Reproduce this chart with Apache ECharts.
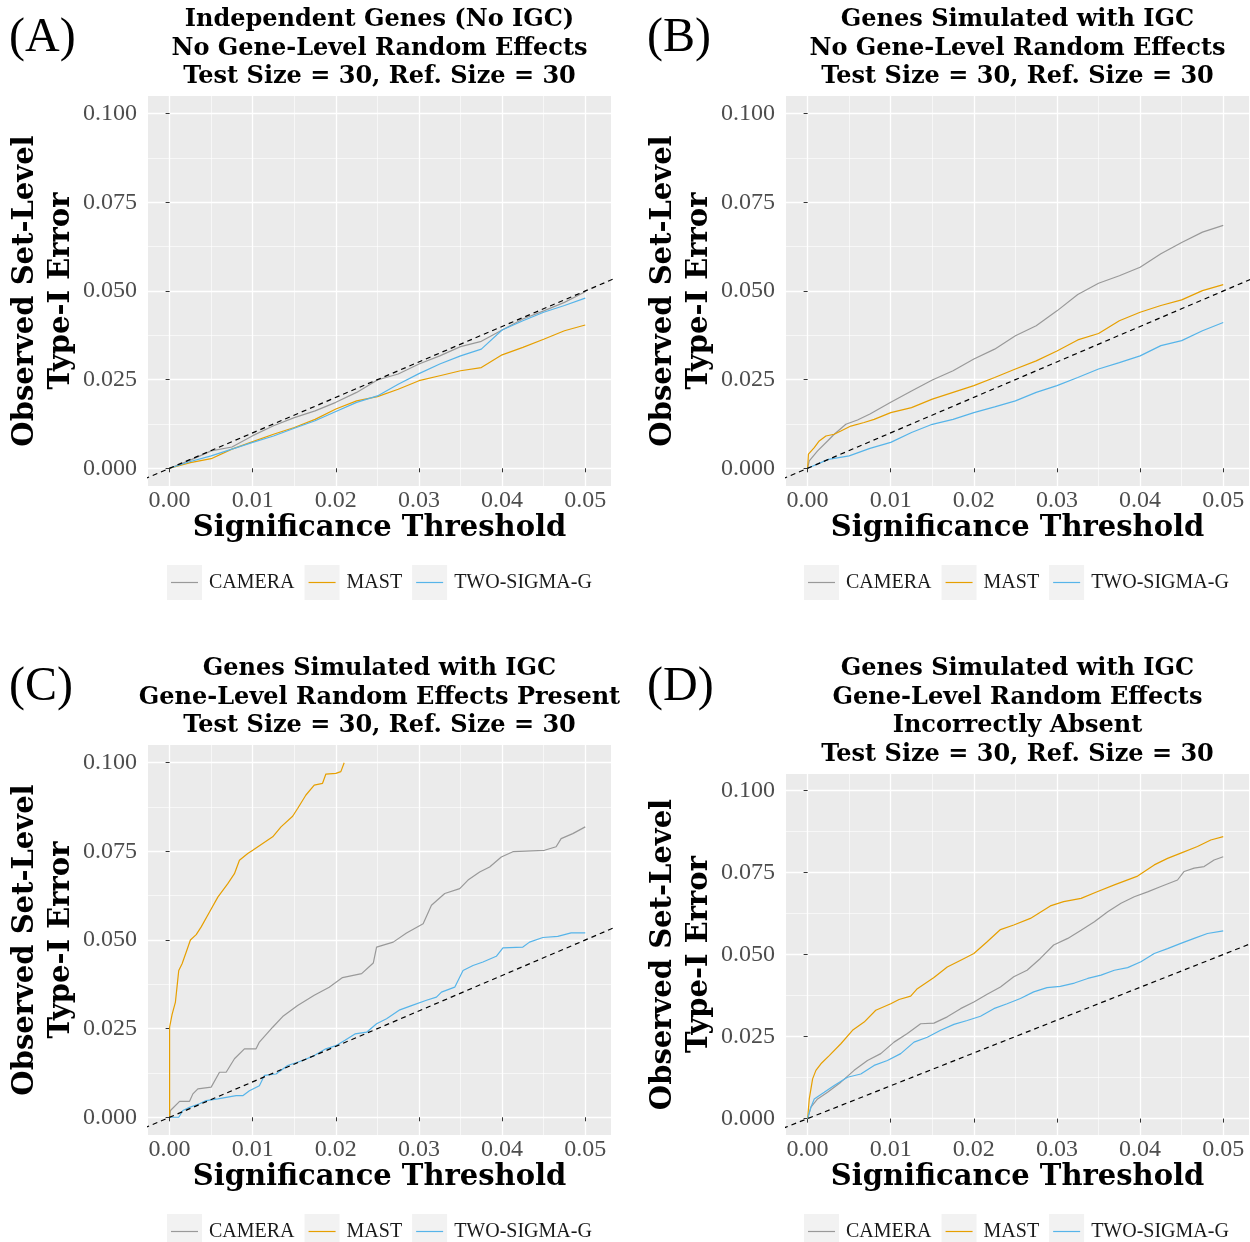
<!DOCTYPE html>
<html><head><meta charset="utf-8">
<script src="https://cdn.jsdelivr.net/npm/echarts@6/dist/echarts.min.js"></script>
<style>html,body{margin:0;padding:0;background:#fff}#c{width:1250px;height:1242px}</style>
</head><body><div id="c"></div>
<script>
// ---------- data ----------
const METHODS = ['CAMERA', 'MAST', 'TWO-SIGMA-G'];
const COLORS = ['#999999', '#E69F00', '#56B4E9'];
const X_TICKS = [0, 0.01, 0.02, 0.03, 0.04, 0.05];
const X_MINOR = [0.005, 0.015, 0.025, 0.035, 0.045];
const Y_TICKS = [0, 0.025, 0.05, 0.075, 0.1];
const Y_MINOR = [0.0125, 0.0375, 0.0625, 0.0875];
const X_RANGE = [-0.0026, 0.0531];
const Y_RANGE = [-0.005, 0.105];
const REF_LINE = [[-0.01, -0.01], [0.06, 0.06]];

const TITLE_A = ['Independent Genes (No IGC)', 'No Gene-Level Random Effects', 'Test Size = 30, Ref. Size = 30'];
const TITLE_B = ['Genes Simulated with IGC', 'No Gene-Level Random Effects', 'Test Size = 30, Ref. Size = 30'];
const TITLE_C = ['Genes Simulated with IGC', 'Gene-Level Random Effects Present', 'Test Size = 30, Ref. Size = 30'];
const TITLE_D = ['Genes Simulated with IGC', 'Gene-Level Random Effects', 'Incorrectly Absent', 'Test Size = 30, Ref. Size = 30'];
const X_NAME = 'Significance Threshold';
const Y_NAME = 'Observed Set-Level\nType-I Error';

const A_CAMERA = [[0,0],[0.0025,0.0023],[0.005,0.0049],[0.0075,0.006],[0.01,0.0092],[0.0125,0.012],[0.015,0.0143],[0.0175,0.0162],[0.02,0.0186],[0.0225,0.0214],[0.025,0.0249],[0.0275,0.0266],[0.03,0.0294],[0.0325,0.0317],[0.035,0.0343],[0.0375,0.0358],[0.04,0.039],[0.0425,0.0421],[0.045,0.0444],[0.0475,0.0468],[0.05,0.0498]];
const A_MAST = [[0,0],[0.0025,0.0016],[0.005,0.0027],[0.0075,0.0054],[0.01,0.0075],[0.0125,0.0096],[0.015,0.0115],[0.0175,0.0138],[0.02,0.0167],[0.0225,0.019],[0.025,0.0202],[0.0275,0.0223],[0.03,0.0247],[0.0325,0.0261],[0.035,0.0275],[0.0375,0.0284],[0.04,0.032],[0.0425,0.0341],[0.045,0.0364],[0.0475,0.0388],[0.05,0.0404]];
const A_TWOSIGMA = [[0,0],[0.0025,0.0019],[0.005,0.0035],[0.0075,0.0054],[0.01,0.0073],[0.0125,0.0091],[0.015,0.0113],[0.0175,0.0134],[0.02,0.016],[0.0225,0.0186],[0.025,0.0204],[0.0275,0.0237],[0.03,0.0267],[0.0325,0.0294],[0.035,0.0317],[0.0375,0.0336],[0.04,0.039],[0.0425,0.0416],[0.045,0.044],[0.0475,0.0459],[0.05,0.048]];

const B_CAMERA = [[0,0],[0.0002,0.0021],[0.0012,0.0049],[0.0024,0.0077],[0.0032,0.0096],[0.0046,0.0124],[0.006,0.0136],[0.0075,0.0153],[0.01,0.0186],[0.0125,0.0218],[0.015,0.0249],[0.0175,0.0275],[0.02,0.0308],[0.0225,0.0336],[0.025,0.0374],[0.0275,0.0402],[0.03,0.0444],[0.0325,0.049],[0.035,0.0522],[0.0375,0.0543],[0.04,0.0567],[0.0425,0.0605],[0.045,0.0637],[0.0475,0.0666],[0.05,0.0685]];
const B_MAST = [[0,0],[0.0001,0.004],[0.0008,0.0058],[0.0014,0.0077],[0.0022,0.0091],[0.0032,0.0096],[0.004,0.0105],[0.0052,0.0119],[0.0068,0.0129],[0.008,0.0138],[0.01,0.0157],[0.0125,0.0171],[0.015,0.0195],[0.0175,0.0214],[0.02,0.0233],[0.0225,0.0256],[0.025,0.028],[0.0275,0.0303],[0.03,0.0331],[0.0325,0.0362],[0.035,0.038],[0.0375,0.0416],[0.04,0.044],[0.0425,0.0459],[0.045,0.0475],[0.0475,0.0501],[0.05,0.0518]];
const B_TWOSIGMA = [[0,0],[0.0025,0.0025],[0.005,0.0035],[0.0075,0.0056],[0.01,0.0073],[0.0125,0.0101],[0.015,0.0124],[0.0175,0.0138],[0.02,0.0157],[0.0225,0.0173],[0.025,0.019],[0.0275,0.0214],[0.03,0.0233],[0.0325,0.0256],[0.035,0.028],[0.0375,0.0298],[0.04,0.0317],[0.0425,0.0346],[0.045,0.036],[0.0475,0.0388],[0.05,0.0411]];

const C_CAMERA = [[0,0],[0.0001,0.0019],[0.0012,0.0045],[0.0024,0.0045],[0.0028,0.0066],[0.0034,0.008],[0.005,0.0085],[0.006,0.0127],[0.0068,0.0127],[0.0078,0.0165],[0.009,0.0193],[0.0104,0.0193],[0.0108,0.0212],[0.0124,0.0254],[0.0136,0.0284],[0.0154,0.0315],[0.0174,0.0344],[0.0192,0.0367],[0.0208,0.0394],[0.0231,0.0405],[0.0245,0.0435],[0.0249,0.048],[0.0269,0.0494],[0.0285,0.052],[0.0305,0.0546],[0.0315,0.0598],[0.0331,0.0631],[0.0349,0.0645],[0.0359,0.0669],[0.0373,0.0692],[0.0385,0.0706],[0.0399,0.0734],[0.0413,0.0749],[0.0451,0.0753],[0.0465,0.0763],[0.0471,0.0786],[0.0485,0.08],[0.05,0.0819]];
const C_MAST = [[0,0],[0,0.0254],[0.0003,0.029],[0.0007,0.0325],[0.0009,0.037],[0.0011,0.0414],[0.0015,0.0433],[0.002,0.0466],[0.0025,0.05],[0.0032,0.0515],[0.0038,0.0537],[0.0048,0.0579],[0.0058,0.0621],[0.007,0.0659],[0.0078,0.0687],[0.0084,0.0725],[0.0094,0.0744],[0.01,0.0753],[0.0112,0.0772],[0.0124,0.0791],[0.0134,0.0819],[0.0148,0.0849],[0.0154,0.0871],[0.0164,0.0909],[0.0174,0.0937],[0.0184,0.0942],[0.0188,0.0968],[0.02,0.097],[0.0206,0.0975],[0.021,0.1]];
const C_TWOSIGMA = [[0,0],[0.0011,0],[0.0016,0.0019],[0.0024,0.0028],[0.0036,0.0038],[0.0044,0.0047],[0.0058,0.0052],[0.008,0.0061],[0.0088,0.0061],[0.0096,0.0075],[0.0108,0.0089],[0.0114,0.0118],[0.0128,0.0122],[0.0142,0.0146],[0.016,0.016],[0.0174,0.0174],[0.0188,0.0193],[0.02,0.0202],[0.0211,0.0217],[0.0223,0.0235],[0.0237,0.024],[0.0249,0.0264],[0.0261,0.0278],[0.0277,0.0303],[0.0291,0.0315],[0.0309,0.033],[0.0321,0.0339],[0.0327,0.0353],[0.0343,0.0367],[0.0353,0.0414],[0.0365,0.0428],[0.0377,0.0438],[0.0393,0.0454],[0.0401,0.0478],[0.0425,0.048],[0.0433,0.0494],[0.0449,0.0507],[0.0467,0.051],[0.0483,0.052],[0.05,0.052]];

const D_CAMERA = [[0,0],[0.0004,0.0035],[0.0012,0.006],[0.0024,0.008],[0.004,0.0111],[0.0056,0.0147],[0.0072,0.0177],[0.0088,0.0198],[0.0104,0.0233],[0.012,0.0259],[0.0136,0.0289],[0.0152,0.0291],[0.0168,0.031],[0.0184,0.0335],[0.02,0.0355],[0.0216,0.0379],[0.0232,0.0401],[0.0248,0.0432],[0.0264,0.0452],[0.028,0.0488],[0.0296,0.0529],[0.0313,0.0549],[0.0329,0.0574],[0.0345,0.06],[0.0361,0.063],[0.0377,0.0656],[0.0393,0.0676],[0.0409,0.0691],[0.0425,0.0707],[0.0445,0.0727],[0.0453,0.0753],[0.0465,0.0763],[0.0477,0.0768],[0.0489,0.0788],[0.05,0.0798]];
const D_MAST = [[0,0],[0.0002,0.006],[0.0006,0.0121],[0.001,0.0147],[0.0016,0.0167],[0.0026,0.0192],[0.004,0.0228],[0.0054,0.0269],[0.0068,0.0294],[0.0082,0.033],[0.01,0.035],[0.011,0.0363],[0.0124,0.0373],[0.0132,0.0396],[0.0152,0.043],[0.0168,0.0462],[0.0186,0.0485],[0.02,0.0503],[0.0216,0.0539],[0.0232,0.0576],[0.0248,0.059],[0.0268,0.061],[0.0292,0.0648],[0.0308,0.0661],[0.0329,0.0671],[0.0349,0.0692],[0.0369,0.0712],[0.0397,0.0739],[0.0417,0.0773],[0.0433,0.0793],[0.0449,0.0809],[0.0469,0.0829],[0.0485,0.0849],[0.05,0.0859]];
const D_TWOSIGMA = [[0,0],[0.0004,0.0035],[0.0008,0.006],[0.002,0.008],[0.0032,0.0101],[0.0048,0.0126],[0.0064,0.0136],[0.008,0.0162],[0.0096,0.0177],[0.0112,0.0198],[0.0128,0.0233],[0.0144,0.0248],[0.016,0.0269],[0.0176,0.0287],[0.0192,0.0299],[0.0208,0.0312],[0.0224,0.0335],[0.024,0.035],[0.0256,0.0366],[0.0272,0.0386],[0.0288,0.0399],[0.0304,0.0403],[0.0321,0.0413],[0.0337,0.0427],[0.0353,0.0437],[0.0369,0.0452],[0.0385,0.046],[0.0401,0.0478],[0.0417,0.0503],[0.0433,0.0518],[0.0449,0.0534],[0.0465,0.0549],[0.0481,0.0564],[0.05,0.0572]];

// ---------- layout / style ----------
const FONT_REG = '"Liberation Serif", "Times New Roman", serif';
const FONT_BOLD = '"DejaVu Serif", serif';

const panels = [
  { label: '(A)', title: TITLE_A, grid: { left: 148, top: 96, width: 463, height: 390 }, legendLeft: 167, legendTop: 565, labelXY: [9, 38], titleXY: [379.5, 5.5], data: [A_CAMERA, A_MAST, A_TWOSIGMA] },
  { label: '(B)', title: TITLE_B, grid: { left: 786, top: 96, width: 463, height: 390 }, legendLeft: 804, legendTop: 565, labelXY: [647, 38], titleXY: [1017.5, 5.5], data: [B_CAMERA, B_MAST, B_TWOSIGMA] },
  { label: '(C)', title: TITLE_C, grid: { left: 148, top: 745, width: 463, height: 390 }, legendLeft: 167, legendTop: 1214, labelXY: [9, 687], titleXY: [379.5, 654.5], data: [C_CAMERA, C_MAST, C_TWOSIGMA] },
  { label: '(D)', title: TITLE_D, grid: { left: 786, top: 774, width: 463, height: 361 }, legendLeft: 804, legendTop: 1214, labelXY: [647, 687], titleXY: [1017.5, 654.5], data: [D_CAMERA, D_MAST, D_TWOSIGMA] }
];

const grid = [], xAxis = [], yAxis = [], series = [], legend = [], graphic = [];

panels.forEach((p, i) => {
  grid.push(Object.assign({ show: true, backgroundColor: '#EBEBEB', borderWidth: 0 }, p.grid));

  xAxis.push({
    type: 'value', gridIndex: i, min: X_RANGE[0], max: X_RANGE[1], position: 'bottom',
    name: X_NAME, nameLocation: 'middle', nameGap: 28,
    nameTextStyle: { fontFamily: FONT_BOLD, fontWeight: 'bold', fontSize: 29, color: '#000' },
    axisLine: { show: false },
    axisTick: { show: true, length: 4, customValues: X_TICKS, lineStyle: { color: '#333', width: 1 } },
    axisLabel: { customValues: X_TICKS, formatter: v => v.toFixed(2), fontFamily: FONT_REG, fontSize: 24, color: '#4D4D4D', margin: 3 },
    splitLine: { show: true, lineStyle: { color: '#FFFFFF', width: 1.3 } }
  });
  xAxis.push({
    type: 'value', gridIndex: i, min: X_RANGE[0], max: X_RANGE[1], position: 'top',
    axisLine: { show: false },
    axisTick: { show: false, customValues: X_MINOR },
    axisLabel: { show: false, customValues: X_MINOR },
    splitLine: { show: true, lineStyle: { color: '#FFFFFF', width: 0.6 } }
  });
  yAxis.push({
    type: 'value', gridIndex: i, min: Y_RANGE[0], max: Y_RANGE[1], position: 'left',
    name: Y_NAME, nameLocation: 'middle', nameRotate: 90, nameGap: 67,
    nameTextStyle: { fontFamily: FONT_BOLD, fontWeight: 'bold', fontSize: 29, color: '#000', lineHeight: 36 },
    axisLine: { show: false },
    axisTick: { show: true, length: 4, customValues: Y_TICKS, lineStyle: { color: '#333', width: 1 } },
    axisLabel: { customValues: Y_TICKS, formatter: v => v.toFixed(3), fontFamily: FONT_REG, fontSize: 24, color: '#4D4D4D', margin: 11 },
    splitLine: { show: true, lineStyle: { color: '#FFFFFF', width: 1.3 } }
  });
  yAxis.push({
    type: 'value', gridIndex: i, min: Y_RANGE[0], max: Y_RANGE[1], position: 'right',
    axisLine: { show: false },
    axisTick: { show: false, customValues: Y_MINOR },
    axisLabel: { show: false, customValues: Y_MINOR },
    splitLine: { show: true, lineStyle: { color: '#FFFFFF', width: 0.6 } }
  });

  METHODS.forEach((m, k) => {
    series.push({
      name: m, type: 'line', xAxisIndex: 2 * i, yAxisIndex: 2 * i, data: p.data[k],
      symbol: 'none', showSymbol: false, clip: true, silent: true, z: 3,
      color: COLORS[k], itemStyle: { color: COLORS[k] },
      lineStyle: { color: COLORS[k], width: 1.2 }
    });
  });
  series.push({
    name: 'y = x', type: 'line', xAxisIndex: 2 * i, yAxisIndex: 2 * i, data: REF_LINE,
    symbol: 'none', showSymbol: false, clip: true, silent: true, z: 4,
    lineStyle: { color: '#000000', width: 1.2, type: [5, 4] }
  });

  const legBase = {
    left: p.legendLeft, top: p.legendTop, orient: 'horizontal', data: METHODS,
    itemWidth: 35, itemHeight: 35, itemGap: 10, selectedMode: false, padding: 0
  };
  legend.push(Object.assign({}, legBase, {
    icon: 'rect', itemStyle: { color: '#F2F2F2', borderWidth: 0 }, z: 1,
    textStyle: { color: 'rgba(0,0,0,0)', fontFamily: FONT_REG, fontSize: 20, padding: [0, 0, 0, 2] }
  }));
  legend.push(Object.assign({}, legBase, {
    icon: 'path://M0,0 M35,35 M4,16.9 L31,16.9 L31,18.1 L4,18.1 Z', itemStyle: { borderWidth: 0 }, z: 2,
    textStyle: { color: '#1A1A1A', fontFamily: FONT_REG, fontSize: 20, padding: [0, 0, 0, 2] }
  }));

  graphic.push({
    type: 'text', x: p.labelXY[0], y: p.labelXY[1],
    style: { text: p.label, fontFamily: FONT_REG, fontSize: 48, fill: '#000', align: 'left', verticalAlign: 'middle', textAlign: 'left', textVerticalAlign: 'middle' }
  });
  graphic.push({
    type: 'text', x: p.titleXY[0], y: p.titleXY[1],
    style: { text: p.title.join('\n'), fontFamily: FONT_BOLD, fontWeight: 'bold', fontSize: 24, lineHeight: 28.6, fill: '#000', align: 'center', verticalAlign: 'top', textAlign: 'center', textVerticalAlign: 'top' }
  });
});

const chart = echarts.init(document.getElementById('c'), null, { renderer: 'canvas' });
chart.setOption({
  animation: false,
  backgroundColor: '#FFFFFF',
  grid, xAxis, yAxis, series, legend, graphic
});
</script></body></html>
